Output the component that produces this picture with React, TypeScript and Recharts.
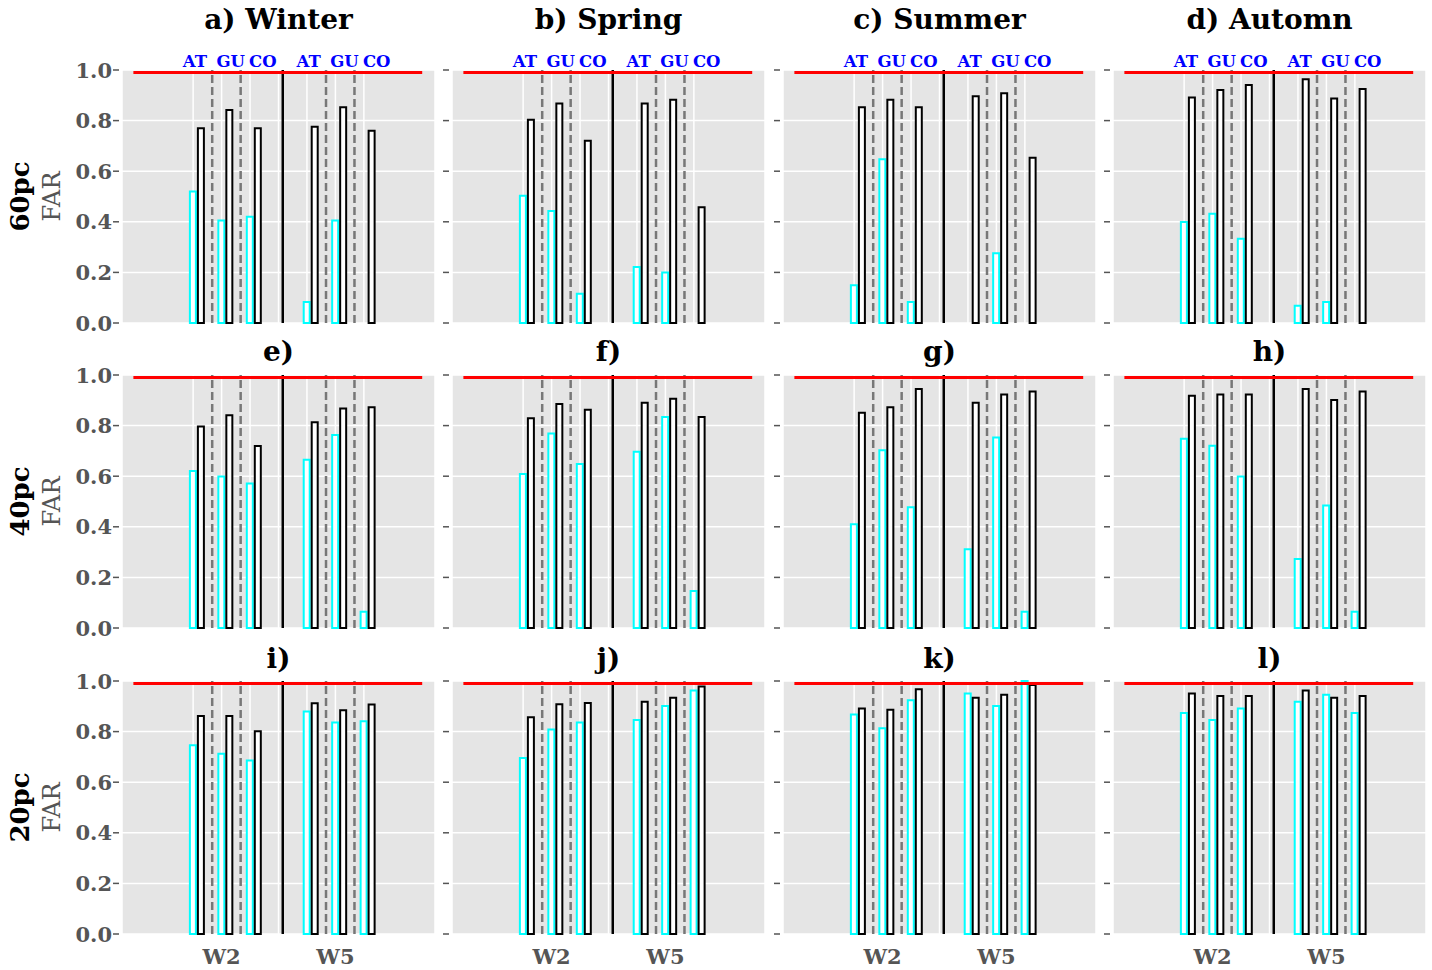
import React from 'react';
import { ComposedChart, Bar, XAxis, YAxis, CartesianGrid, ReferenceLine } from 'recharts';

// ---- data ----
const panelTitles = [
  ['a) Winter', 'b) Spring', 'c) Summer', 'd) Automn'],
  ['e)', 'f)', 'g)', 'h)'],
  ['i)', 'j)', 'k)', 'l)'],
];
const rowLabels = ['60pc', '40pc', '20pc'];
const models = ['AT', 'GU', 'CO'];
const windows = ['W2', 'W5'];
const yTicks = [0, 0.2, 0.4, 0.6, 0.8, 1.0];
const threshold = 0.99;

// per season (Winter, Spring, Summer, Automn), order: W2 AT, GU, CO, W5 AT, GU, CO
const cyan60 = [
  [0.52, 0.405, 0.42, 0.083, 0.405, 0.0],
  [0.503, 0.443, 0.116, 0.221, 0.2, 0.0],
  [0.149, 0.647, 0.083, 0.0, 0.276, 0.0],
  [0.399, 0.432, 0.333, 0.068, 0.083, 0.0],
];
const black60 = [
  [0.77, 0.842, 0.77, 0.776, 0.853, 0.76],
  [0.803, 0.868, 0.72, 0.868, 0.882, 0.458],
  [0.853, 0.882, 0.853, 0.896, 0.908, 0.653],
  [0.891, 0.921, 0.941, 0.963, 0.887, 0.925],
];
const cyan40 = [
  [0.621, 0.599, 0.571, 0.665, 0.763, 0.064],
  [0.609, 0.769, 0.648, 0.697, 0.834, 0.146],
  [0.41, 0.703, 0.477, 0.311, 0.753, 0.064],
  [0.748, 0.72, 0.599, 0.273, 0.484, 0.064],
];
const black40 = [
  [0.796, 0.841, 0.719, 0.813, 0.868, 0.873],
  [0.829, 0.885, 0.863, 0.89, 0.906, 0.834],
  [0.851, 0.873, 0.945, 0.89, 0.923, 0.935],
  [0.918, 0.923, 0.923, 0.945, 0.901, 0.935],
];
const cyan20 = [
  [0.746, 0.712, 0.686, 0.879, 0.836, 0.841],
  [0.696, 0.808, 0.836, 0.846, 0.901, 0.962],
  [0.868, 0.813, 0.924, 0.951, 0.901, 1.0],
  [0.874, 0.846, 0.891, 0.918, 0.946, 0.874],
];
const black20 = [
  [0.862, 0.862, 0.801, 0.912, 0.884, 0.907],
  [0.857, 0.908, 0.913, 0.918, 0.934, 0.978],
  [0.891, 0.886, 0.967, 0.934, 0.946, 0.984],
  [0.951, 0.941, 0.941, 0.962, 0.934, 0.941],
];

const cyanRows = [cyan60, cyan40, cyan20];
const blackRows = [black60, black40, black20];

// ---- layout ----
const FONT = '"DejaVu Serif", serif';
const plotLefts = [122, 452, 783, 1113];
const plotTops = [70, 375, 681];
const plotW = 313;
const plotH = 253;
// axes take 1px each (a 0px axis is not drawn), margins make up the rest
const M = { top: 44, right: 10, bottom: 39, left: 59 };
const PAD = { top: 45, left: 60, bottom: 40 };

const xDomain: [number, number] = [-1.5, 9.5];
const slots = [1, 2, 3, 5, 6, 7]; // bar pair slots, W2 then W5
const pairShift = 0.14;
const gridTicks = [1, 2, 3, 4, 5, 6, 7];
const windowTicks = [2, 6];
const labelShift = [0.06, 0.32, 0.45];
const labelTicks = slots.map((s, i) => s + labelShift[i % 3]);
const dashedX = [1.67, 2.67, 5.67, 6.67];
const splitX = 4.15;

function buildRows(c: number[], b: number[]) {
  return c.map((v, i) => ({ x: slots[i] + pairShift, cyan: v, black: b[i] }));
}

function Panel({ row, col }: { row: number; col: number }) {
  const data = buildRows(cyanRows[row][col], blackRows[row][col]);
  const showY = col === 0;
  const showW = row === 2;
  const showModels = row === 0;

  const yTick = (p: any) => (
    <g>
      <line x1={p.x - 9} x2={p.x - 3} y1={p.y} y2={p.y} stroke="#555" strokeWidth={1.5} />
      {showY && (
        <text x={p.x - 10} y={p.y} dy="0.36em" textAnchor="end" fontFamily={FONT} fontWeight="bold" fontSize={21} fill="#555">
          {Number(p.payload.value).toFixed(1)}
        </text>
      )}
    </g>
  );

  const bottomTick = (p: any) => {
    const i = windowTicks.indexOf(p.payload.value);
    if (!showW || i < 0) return <g />;
    return (
      <text x={p.x} y={p.y + 30} textAnchor="middle" fontFamily={FONT} fontWeight="bold" fontSize={21} fill="#555">
        {windows[i]}
      </text>
    );
  };

  const topTick = (p: any) => {
    const i = labelTicks.indexOf(p.payload.value);
    if (!showModels || i < 0) return <g />;
    return (
      <text x={p.x} y={p.y - 3} textAnchor="middle" fontFamily={FONT} fontWeight="bold" fontSize={16.5} fill="#0000FF">
        {models[i % 3]}
      </text>
    );
  };

  return (
    <div style={{ position: 'absolute', left: plotLefts[col] - PAD.left, top: plotTops[row] - PAD.top }}>
      <ComposedChart
        width={PAD.left + plotW + M.right}
        height={PAD.top + plotH + PAD.bottom}
        data={data}
        margin={M}
        barGap={2}
      >
        <CartesianGrid fill="#E5E5E5" stroke="#FFFFFF" strokeWidth={1.5} />
        <XAxis
          dataKey="x"
          type="number"
          domain={xDomain}
          allowDataOverflow
          ticks={gridTicks}
          interval={0}
          height={1}
          axisLine={false}
          tickLine={false}
          tickSize={0}
          tickMargin={0}
          tick={bottomTick}
        />
        <XAxis
          xAxisId="top"
          dataKey="x"
          orientation="top"
          type="number"
          domain={xDomain}
          allowDataOverflow
          ticks={labelTicks}
          interval={0}
          height={1}
          axisLine={false}
          tickLine={false}
          tickSize={0}
          tickMargin={0}
          tick={topTick}
        />
        <YAxis
          type="number"
          domain={[0, 1]}
          ticks={yTicks}
          interval={0}
          width={1}
          axisLine={false}
          tickLine={false}
          tickSize={0}
          tickMargin={0}
          tick={yTick}
        />
        <Bar dataKey="cyan" barSize={6} fill="#FFFFFF" stroke="#00FFFF" strokeWidth={2} isAnimationActive={false} />
        <Bar dataKey="black" barSize={6} fill="#FFFFFF" stroke="#000000" strokeWidth={2} isAnimationActive={false} />
        {dashedX.map((x) => (
          <ReferenceLine key={x} x={x} stroke="#777777" strokeWidth={2.5} strokeDasharray="8 4" />
        ))}
        <ReferenceLine x={splitX} stroke="#000000" strokeWidth={2.5} />
        <ReferenceLine
          segment={[{ x: -1.1, y: threshold }, { x: 9.05, y: threshold }]}
          stroke="#FF0000"
          strokeWidth={3}
        />
      </ComposedChart>
    </div>
  );
}

export default function App() {
  const titleBase = [29, 361, 668];
  return (
    <div style={{ position: 'absolute', left: 0, top: 0, width: 1432, height: 970, background: '#fff', fontFamily: FONT }}>
      {[0, 1, 2].map((r) => [0, 1, 2, 3].map((c) => <Panel key={`${r}-${c}`} row={r} col={c} />))}
      <svg width={1432} height={970} style={{ position: 'absolute', left: 0, top: 0, pointerEvents: 'none' }}>
        {panelTitles.map((row, r) =>
          row.map((t, c) => (
            <text key={t} x={plotLefts[c] + plotW / 2} y={titleBase[r]} textAnchor="middle" fontFamily={FONT} fontWeight="bold" fontSize={28} fill="#000">
              {t}
            </text>
          ))
        )}
        {rowLabels.map((l, r) => {
          const cy = plotTops[r] + plotH / 2;
          return (
            <g key={l}>
              <text x={29} y={cy} transform={`rotate(-90, 29, ${cy})`} textAnchor="middle" fontFamily={FONT} fontWeight="bold" fontSize={26} fill="#000">
                {l}
              </text>
              <text x={60} y={cy} transform={`rotate(-90, 60, ${cy})`} textAnchor="middle" fontFamily={FONT} fontSize={24} fill="#555">
                FAR
              </text>
            </g>
          );
        })}
      </svg>
    </div>
  );
}
